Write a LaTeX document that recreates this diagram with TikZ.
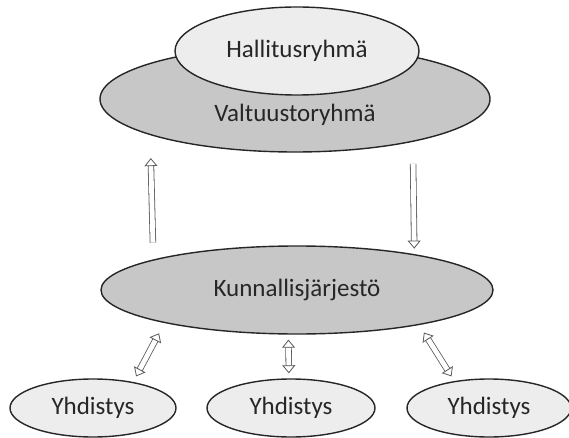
\documentclass[tikz,border=0pt]{standalone}
\usepackage{fontspec}
\setmainfont{Carlito}
\usetikzlibrary{shapes.geometric, arrows.meta}

\begin{document}
\begin{tikzpicture}[x=1pt, y=-1pt, font=\fontsize{25}{29}\selectfont,
  group/.style={ellipse, draw=black!85, line width=1.4pt, inner sep=0pt, text=black!85},
  dark/.style={group, fill=black!22},
  light/.style={group, fill=black!7},
  flow/.style={draw=black!65, line width=0.8pt, double=white, double distance=4.8pt,
    -{Triangle[open, length=8pt, width=13pt]}},
  both/.style={flow, {Triangle[open, length=8pt, width=13pt]}-{Triangle[open, length=8pt, width=13pt]}}]
  \useasboundingbox (0,0) rectangle (569,438);

  % the groups
  \node[dark, minimum width=390pt, minimum height=106pt,
    label={[yshift=-16pt, text=black!85]center:Valtuustoryhmä}] (valt) at (295,99) {};
  \node[light, minimum width=244pt, minimum height=88pt] (hall) at (297,51) {Hallitusryhmä};
  \node[dark, minimum width=392pt, minimum height=88pt] (kunta) at (297,290) {Kunnallisjärjestö};
  \node[light, minimum width=166pt, minimum height=58pt] (yh1) at (93,408) {Yhdistys};
  \node[light, minimum width=168pt, minimum height=58pt] (yh2) at (291,408) {Yhdistys};
  \node[light, minimum width=164pt, minimum height=58pt] (yh3) at (489,408) {Yhdistys};

  \path
  (kunta.168.2) edge [flow, shorten <=17pt, shorten >=23pt] (valt.194.2)
  (valt.340.3) edge [flow, shorten <=22pt, shorten >=5.5pt] (kunta.17)
  (yh1.33.5) edge [both, shorten <=6.3pt, shorten >=11.6pt] (kunta.194.4)
  (yh2.94) edge [both, shorten <=5pt, shorten >=5pt] (kunta.259.7)
  (yh3.142.2) edge [both, shorten <=5.5pt, shorten >=8.9pt] (kunta.344.1)
  ;
\end{tikzpicture}
\end{document}
